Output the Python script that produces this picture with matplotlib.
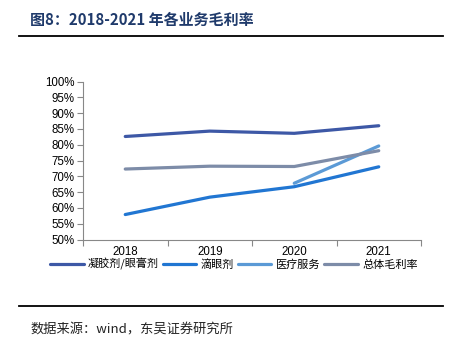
import numpy as np
import matplotlib
matplotlib.use("Agg")
import matplotlib.pyplot as plt
from matplotlib.ticker import PercentFormatter, FixedLocator, NullFormatter

plt.rcParams['font.family'] = ['Liberation Sans', 'Noto Sans CJK SC', 'DejaVu Sans']

years = ["2018", "2019", "2020", "2021"]
gel = [82.6, 84.3, 83.6, 86.0]        # 凝胶剂/眼膏剂
drops = [57.9, 63.4, 66.7, 73.0]      # 滴眼剂
medical = [np.nan, np.nan, 67.8, 79.6]  # 医疗服务
overall = [72.3, 73.2, 73.1, 78.1]    # 总体毛利率

series = [
    ("凝胶剂/眼膏剂", gel, "#3D58A6"),
    ("滴眼剂", drops, "#2176D2"),
    ("医疗服务", medical, "#5B9AD6"),
    ("总体毛利率", overall, "#7D8CA8"),
]

fig = plt.figure(figsize=(4.49, 3.43), dpi=100)
W, H = 449, 343

# title and rules
fig.text(30 / W, 1 - 20 / H, "图8：2018-2021 年各业务毛利率", fontsize=10.8, fontweight="bold",
         color="#1F3A6B", va="center", ha="left", family=['Noto Sans CJK SC', 'DejaVu Sans'])
fig.add_artist(plt.Line2D([19 / W, 443 / W], [1 - 35.5 / H] * 2, color="black", lw=1.3))
fig.add_artist(plt.Line2D([19 / W, 443 / W], [1 - 305.5 / H] * 2, color="black", lw=1.3))
fig.text(30 / W, 1 - 330 / H, "数据来源：wind，东吴证券研究所", fontsize=9.5, color="#222222",
         va="center", ha="left", family=['Noto Sans CJK SC', 'DejaVu Sans'])

ax = fig.add_axes([83 / W, 1 - 239.5 / H, (421 - 83) / W, (239.5 - 81.5) / H])
x = np.arange(len(years))
for label, vals, color in series:
    ax.plot(x, vals, color=color, lw=2.3, label=label, solid_capstyle="round")

ax.set_xlim(-0.5, len(years) - 0.5)
ax.set_ylim(50, 100)
ax.set_yticks(np.arange(50, 101, 5))
ax.yaxis.set_major_formatter(PercentFormatter(decimals=0))
ax.xaxis.set_major_locator(FixedLocator(np.arange(-0.5, len(years), 1)))
ax.xaxis.set_major_formatter(NullFormatter())
ax.xaxis.set_minor_locator(FixedLocator(x))
ax.set_xticklabels(years, minor=True)
ax.tick_params(axis="x", which="minor", length=0, pad=5, labelsize=8.3)
ax.tick_params(axis="x", which="major", length=4, color="#888888", direction="out")
ax.tick_params(axis="y", length=4, color="#888888", labelsize=8.3, pad=2)
for s in ["top", "right"]:
    ax.spines[s].set_visible(False)
for s in ["left", "bottom"]:
    ax.spines[s].set_color("#888888")
    ax.spines[s].set_linewidth(0.8)

leg = fig.legend(loc="center", bbox_to_anchor=(234 / W, 1 - 264 / H), ncol=4, frameon=False,
                 handlelength=3.0, handletextpad=0.4, columnspacing=0.35,
                 prop={'family': ['Noto Sans CJK SC', 'DejaVu Sans'], 'size': 8})

fig.savefig("out.png", dpi=100)
